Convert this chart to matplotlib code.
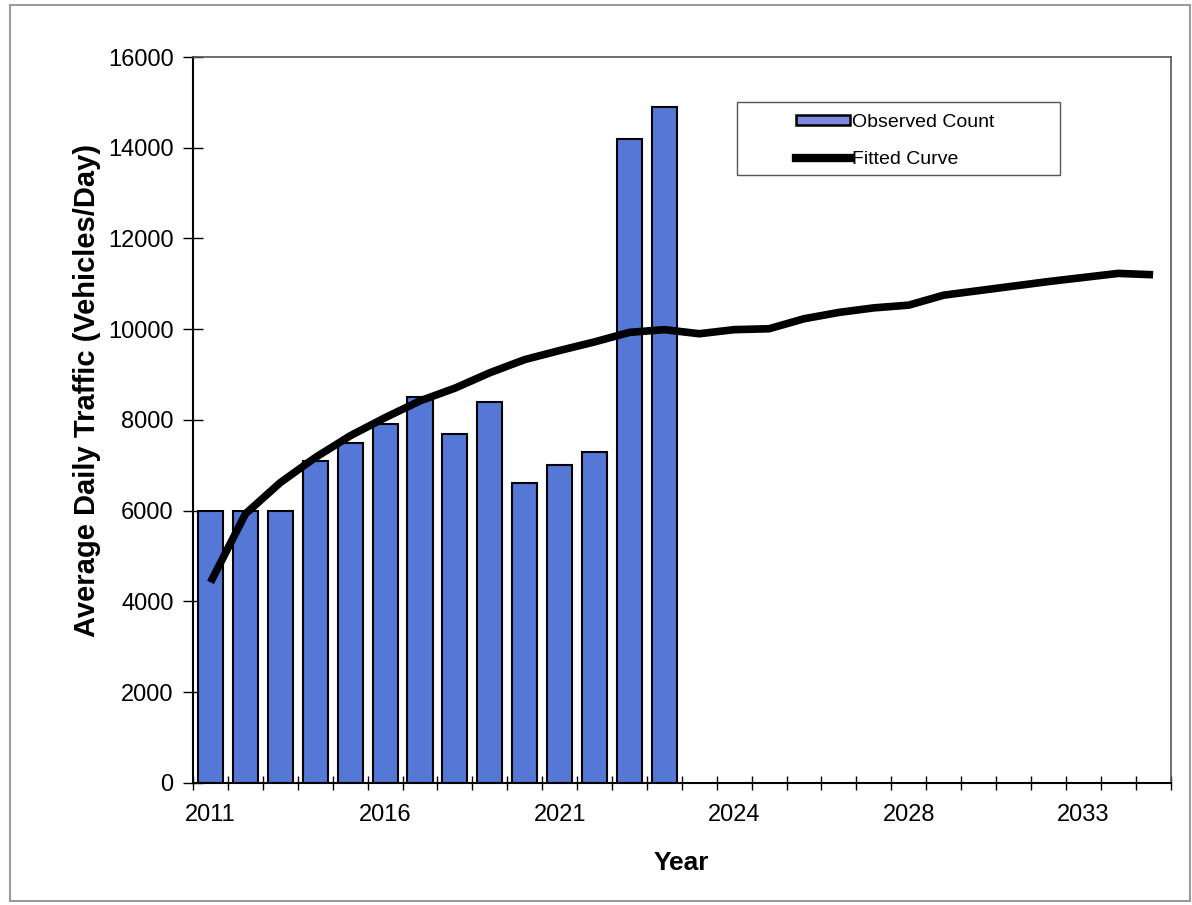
import matplotlib
matplotlib.use("Agg")
import matplotlib.pyplot as plt
from matplotlib.patches import Rectangle, Patch
from matplotlib.lines import Line2D
import numpy as np

plt.rcParams['font.family'] = ['Liberation Sans', 'DejaVu Sans']

# 28 categories on the x axis, labels only every 5th one
n_categories = 28
tick_label_pos = [0, 5, 10, 15, 20, 25]
tick_labels = ['2011', '2016', '2021', '2024', '2028', '2033']

# observed counts (first 14 categories)
observed = [6000, 6000, 6000, 7100, 7500, 7900, 8500, 7700, 8400,
            6600, 7000, 7300, 14200, 14900]

# fitted curve over all categories
fitted = [4420, 5930, 6620, 7170, 7650, 8050, 8420, 8700, 9040, 9330,
          9530, 9720, 9930, 9990, 9900, 9990, 10010, 10230, 10370, 10470,
          10530, 10750, 10850, 10950, 11050, 11140, 11230, 11200]

bar_color = '#5577d6'

fig = plt.figure(figsize=(11.92, 9.05), dpi=100)
ax = fig.add_axes([0.162, 0.135, 0.82, 0.802])

# outer frame around the whole chart
fig.patches.append(Rectangle((0.008, 0.004), 0.99, 0.99, transform=fig.transFigure,
                             fill=False, edgecolor='#9a9a9a', linewidth=1.5))

x_obs = np.arange(len(observed))
x_fit = np.arange(len(fitted))
ax.bar(x_obs, observed, width=0.72, color=bar_color, edgecolor='black',
       linewidth=1.5, zorder=2)
ax.plot(x_fit, fitted, color='black', linewidth=5.5, zorder=3,
        solid_capstyle='butt', solid_joinstyle='round')

ax.set_xlim(-0.5, n_categories - 0.5)
ax.set_ylim(0, 16000)
ax.set_yticks(np.arange(0, 16001, 2000))
ax.set_xticks(tick_label_pos)
ax.set_xticklabels(tick_labels)
ax.set_xticks(np.arange(-0.5, n_categories, 1), minor=True)
ax.tick_params(axis='x', which='major', length=0, pad=15, labelsize=17)
ax.tick_params(axis='x', which='minor', direction='inout', length=10, width=1)
ax.tick_params(axis='y', direction='inout', length=14, width=1, labelsize=17, pad=7)

for side in ['top', 'right']:
    ax.spines[side].set_color('#555555')
    ax.spines[side].set_linewidth(1.2)
for side in ['left', 'bottom']:
    ax.spines[side].set_linewidth(1.5)

ax.set_xlabel('Year', fontsize=19, fontweight='bold', labelpad=18)
ax.set_ylabel('Average Daily Traffic (Vehicles/Day)', fontsize=21,
              fontweight='bold')
ax.yaxis.set_label_coords(-0.094, 0.54)

# legend: drawn frame plus frameless legend inside it
ax.add_patch(Rectangle((0.556, 0.8375), 0.3305, 0.1005, transform=ax.transAxes,
                       fill=True, facecolor='white', edgecolor='#555555',
                       linewidth=1.0, zorder=4))
handles = [Patch(facecolor='#8088e0', edgecolor='black', linewidth=1.8),
           Line2D([0], [0], color='black', linewidth=6)]
leg = ax.legend(handles, ['Observed Count', 'Fitted Curve'],
                loc='upper left', bbox_to_anchor=(0.6166, 0.921),
                fontsize=14, frameon=False,
                handlelength=2.8, handleheight=0.4, handletextpad=0.1,
                borderpad=0, labelspacing=1.0, borderaxespad=0)
leg.set_zorder(5)

fig.savefig('out.png', dpi=100)
